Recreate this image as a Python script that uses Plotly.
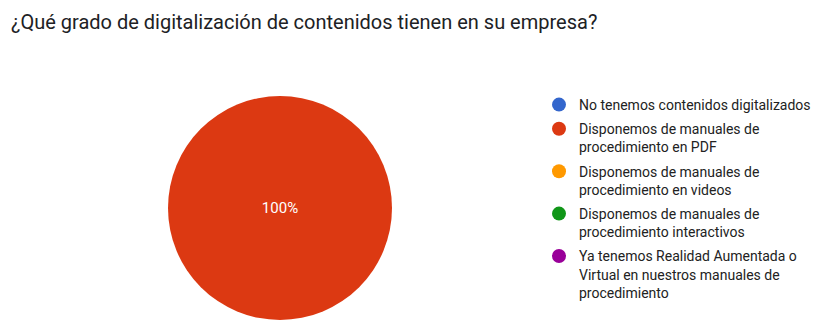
import plotly.graph_objs as go

# survey answers
categories = [
    'No tenemos contenidos digitalizados',
    'Disponemos de manuales de<br>procedimiento en PDF',
    'Disponemos de manuales de<br>procedimiento en videos',
    'Disponemos de manuales de<br>procedimiento interactivos',
    'Ya tenemos Realidad Aumentada o<br>Virtual en nuestros manuales de<br>procedimiento',
]
responses = [0, 1, 0, 0, 0]
colors = ['#3366cc', '#dc3912', '#ff9900', '#109618', '#990099']

title_text = '¿Qué grado de digitalización de contenidos tienen en su empresa?'

W, H = 837, 330

pie = go.Pie(
    labels=[c.replace('<br>', ' ') for c in categories],
    values=responses,
    sort=False,
    direction='clockwise',
    showlegend=False,
    textinfo='percent',
    texttemplate='%{percent:.0%}',
    textposition='inside',
    insidetextorientation='horizontal',
    textfont=dict(family='Roboto', size=15, color='white'),
    marker=dict(colors=colors, line=dict(width=0)),
    domain=dict(x=[168 / W, 392 / W], y=[1 - 320 / H, 1 - 96 / H]),
    hoverinfo='label+percent',
)

# legend entries as circle markers
legend_traces = []
for name, col in zip(categories, colors):
    legend_traces.append(go.Scatter(
        x=[None], y=[None],
        mode='markers',
        name=name,
        marker=dict(size=14, color=col, symbol='circle'),
        legendgroup=name,
        hoverinfo='skip',
    ))

fig = go.Figure(data=[pie] + legend_traces)

fig.update_layout(
    width=W, height=H,
    margin=dict(l=0, r=0, t=0, b=0),
    paper_bgcolor='white',
    plot_bgcolor='white',
    font=dict(family='Roboto', color='#222222'),
    xaxis=dict(visible=False),
    yaxis=dict(visible=False),
    annotations=[dict(
        text=title_text,
        x=9 / W, y=1 - 22 / H,
        xref='paper', yref='paper',
        xanchor='left', yanchor='middle',
        showarrow=False,
        font=dict(family='Roboto', size=20, color='#202124'),
    )],
    legend=dict(
        x=539 / W, y=1 - 89 / H,
        xanchor='left', yanchor='top',
        valign='top',
        traceorder='grouped',
        tracegroupgap=3,
        itemsizing='trace',
        font=dict(family='Roboto', size=14, color='#222222'),
        bgcolor='rgba(0,0,0,0)',
    ),
)

fig.write_html('out.html', config={'displayModeBar': False},
               post_script="document.body.style.margin='0';")
